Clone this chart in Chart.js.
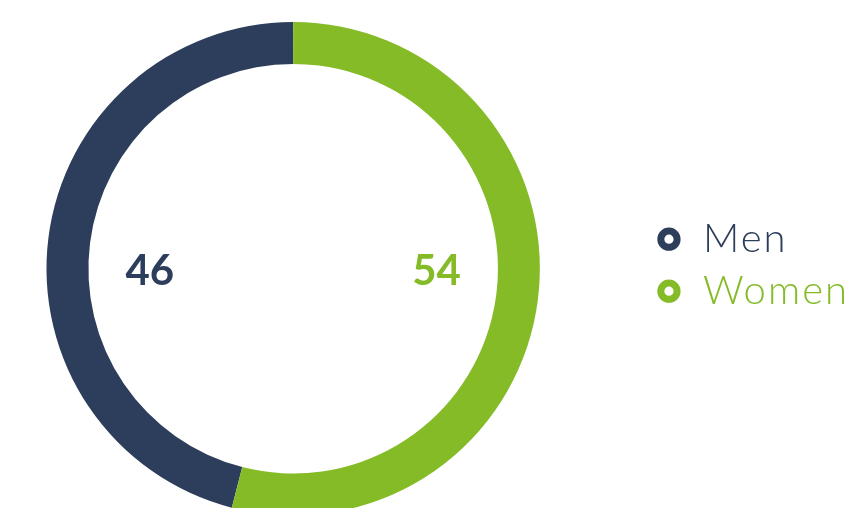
<!DOCTYPE html>
<html>
<head>
<meta charset="utf-8">
<script src="https://cdn.jsdelivr.net/npm/chart.js@4/dist/chart.umd.min.js"></script>
<style>
  html, body { margin: 0; padding: 0; background: #ffffff; width: 855px; height: 508px; overflow: hidden; }
  #wrap { position: absolute; left: -60px; top: 15px; width: 919px; height: 500.4px; }
</style>
</head>
<body>
<div id="wrap"><canvas id="c"></canvas></div>
<script>
const categories = ['Men', 'Women'];
const values = [46, 54];
const colors = ['#2d3e5c', '#84bb27'];

const total = values.reduce((a, b) => a + b, 0);

const spacingPlugin = {
  id: 'letterSpacing',
  beforeLayout(chart) { chart.ctx.letterSpacing = '2px'; },
  beforeDraw(chart) { chart.ctx.letterSpacing = '2px'; }
};

const labelPlugin = {
  id: 'sliceLabels',
  afterDatasetsDraw(chart) {
    const ctx = chart.ctx;
    const meta = chart.getDatasetMeta(0);
    meta.data.forEach((arc, i) => {
      const p = arc.getProps(['x', 'y', 'innerRadius', 'startAngle', 'endAngle'], true);
      const mid = (p.startAngle + p.endAngle) / 2;
      const side = Math.cos(mid) >= 0 ? 1 : -1;
      ctx.save();
      ctx.letterSpacing = '0px';
      ctx.font = 'bold 42px Lato';
      ctx.fillStyle = colors[i];
      ctx.textAlign = 'center';
      ctx.textBaseline = 'middle';
      ctx.fillText(String(values[i]), p.x + side * p.innerRadius * 0.7, p.y + 3);
      ctx.restore();
    });
  }
};

new Chart(document.getElementById('c'), {
  type: 'doughnut',
  data: {
    labels: categories,
    datasets: [{
      data: values,
      backgroundColor: colors,
      borderWidth: 0,
      hoverOffset: 0
    }]
  },
  options: {
    responsive: true,
    maintainAspectRatio: false,
    animation: false,
    cutout: '83%',
    rotation: -360 * values[0] / total,
    layout: { padding: { left: 3.4, right: 0, top: 0, bottom: 0 } },
    plugins: {
      tooltip: { enabled: false },
      title: {
        display: true,
        text: '',
        font: { size: 1 },
        padding: { top: 0, bottom: 5.8 }
      },
      legend: {
        position: 'right',
        align: 'center',
        fullSize: true,
        labels: {
          usePointStyle: true,
          boxWidth: 28,
          boxHeight: 11.5,
          padding: 12,
          font: { family: 'Lato', size: 40, weight: '300' },
          generateLabels(chart) {
            return categories.map((name, i) => ({
              text: name,
              fillStyle: '#ffffff',
              strokeStyle: colors[i],
              fontColor: colors[i],
              lineWidth: 7,
              pointStyle: 'circle',
              hidden: false,
              index: i,
              datasetIndex: 0
            }));
          }
        }
      }
    }
  },
  plugins: [spacingPlugin, labelPlugin]
});
</script>
</body>
</html>
